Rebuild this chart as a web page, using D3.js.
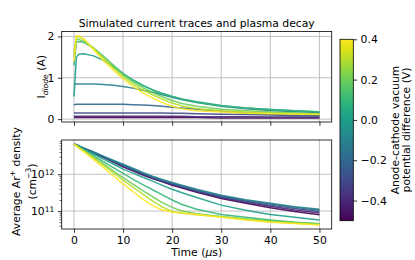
<!DOCTYPE html>
<html>
<head>
<meta charset="utf-8">
<script src="https://cdn.jsdelivr.net/npm/d3@7"></script>
<style>
body { margin: 0; background: #fff; }
svg { font-family: "DejaVu Sans", sans-serif; }
</style>
</head>
<body>
<svg id="chart" width="415" height="260"></svg>
<script>
// time samples (µs) shared by both panels
const times = [0, 0.5, 1, 2, 4, 6, 8, 10, 12, 14, 16, 18, 20, 22, 25, 30, 35, 40, 45, 50];

// anode-cathode vacuum potential difference (V), one trace each
const voltages = [-0.5, -0.4, -0.3, -0.2, -0.1, 0.0, 0.1, 0.2, 0.3, 0.4];

// diode current (A), rows follow voltages
const diodeCurrent = [
    [0.04, 0.04, 0.04, 0.04, 0.04, 0.04, 0.04, 0.04, 0.04, 0.04, 0.04, 0.04, 0.04, 0.04, 0.04, 0.03, 0.03, 0.03, 0.03, 0.03],
    [0.07, 0.07, 0.07, 0.07, 0.07, 0.07, 0.07, 0.07, 0.07, 0.07, 0.07, 0.07, 0.07, 0.07, 0.06, 0.06, 0.06, 0.05, 0.05, 0.05],
    [0.15, 0.15, 0.15, 0.15, 0.15, 0.15, 0.15, 0.15, 0.15, 0.15, 0.15, 0.15, 0.14, 0.14, 0.13, 0.12, 0.11, 0.10, 0.09, 0.08],
    [0.35, 0.36, 0.36, 0.36, 0.36, 0.36, 0.36, 0.36, 0.35, 0.34, 0.33, 0.31, 0.29, 0.27, 0.24, 0.19, 0.15, 0.12, 0.10, 0.09],
    [0.84, 0.85, 0.85, 0.85, 0.85, 0.84, 0.82, 0.79, 0.75, 0.70, 0.65, 0.59, 0.53, 0.47, 0.40, 0.31, 0.25, 0.21, 0.18, 0.16],
    [0.55, 1.50, 1.57, 1.58, 1.53, 1.42, 1.27, 1.10, 0.95, 0.82, 0.71, 0.62, 0.55, 0.49, 0.42, 0.33, 0.27, 0.23, 0.20, 0.17],
    [1.30, 1.87, 1.88, 1.86, 1.72, 1.52, 1.31, 1.10, 0.94, 0.81, 0.70, 0.62, 0.55, 0.48, 0.41, 0.32, 0.27, 0.23, 0.20, 0.18],
    [1.50, 1.93, 1.93, 1.88, 1.72, 1.51, 1.29, 1.07, 0.90, 0.76, 0.64, 0.54, 0.45, 0.38, 0.31, 0.24, 0.20, 0.17, 0.15, 0.13],
    [1.60, 2.00, 1.99, 1.93, 1.71, 1.47, 1.24, 1.02, 0.85, 0.71, 0.59, 0.48, 0.39, 0.32, 0.25, 0.20, 0.17, 0.15, 0.13, 0.12],
    [1.40, 2.02, 2.01, 1.94, 1.68, 1.42, 1.19, 0.97, 0.79, 0.64, 0.51, 0.40, 0.31, 0.25, 0.20, 0.17, 0.14, 0.13, 0.12, 0.11]
];

// average Ar+ density (cm^-3), rows follow voltages
const arDensity = [
    [6.6e12, 6.2e12, 5.75e12, 5.0e12, 3.8e12, 2.9e12, 2.14e12, 1.58e12, 1.23e12, 9.5e11, 7.6e11, 6.2e11, 5.0e11, 4.2e11, 3.24e11, 2.19e11, 1.62e11, 1.23e11, 9.8e10, 7.9e10],
    [6.6e12, 6.2e12, 5.75e12, 5.0e12, 3.8e12, 2.9e12, 2.19e12, 1.62e12, 1.26e12, 9.8e11, 7.8e11, 6.3e11, 5.25e11, 4.4e11, 3.4e11, 2.34e11, 1.74e11, 1.35e11, 1.07e11, 8.9e10],
    [6.6e12, 6.2e12, 5.75e12, 5.0e12, 3.9e12, 2.95e12, 2.24e12, 1.70e12, 1.32e12, 1.02e12, 8.1e11, 6.6e11, 5.5e11, 4.6e11, 3.55e11, 2.45e11, 1.86e11, 1.45e11, 1.17e11, 9.8e10],
    [6.6e12, 6.2e12, 5.75e12, 5.1e12, 4.0e12, 3.0e12, 2.29e12, 1.78e12, 1.38e12, 1.07e12, 8.5e11, 6.9e11, 5.75e11, 4.8e11, 3.7e11, 2.57e11, 1.95e11, 1.55e11, 1.26e11, 1.05e11],
    [6.6e12, 6.2e12, 5.9e12, 5.1e12, 4.0e12, 3.1e12, 2.4e12, 1.86e12, 1.45e12, 1.12e12, 8.9e11, 7.2e11, 6.0e11, 5.0e11, 3.9e11, 2.7e11, 2.04e11, 1.62e11, 1.32e11, 1.12e11],
    [6.6e12, 6.2e12, 5.6e12, 4.8e12, 3.55e12, 2.57e12, 1.9e12, 1.38e12, 1.07e12, 8.3e11, 6.5e11, 5.0e11, 3.9e11, 3.16e11, 2.34e11, 1.45e11, 1.05e11, 8.1e10, 6.8e10, 5.75e10],
    [6.6e12, 6.0e12, 5.5e12, 4.6e12, 3.16e12, 2.19e12, 1.51e12, 1.05e12, 7.4e11, 5.25e11, 3.8e11, 2.75e11, 2.0e11, 1.51e11, 1.12e11, 8.1e10, 6.8e10, 5.75e10, 5.0e10, 4.5e10],
    [6.6e12, 5.9e12, 5.4e12, 4.4e12, 2.9e12, 1.9e12, 1.23e12, 8.1e11, 5.4e11, 3.6e11, 2.45e11, 1.7e11, 1.26e11, 1.0e11, 8.5e10, 7.1e10, 6.2e10, 5.5e10, 4.9e10, 4.5e10],
    [6.6e12, 5.9e12, 5.25e12, 4.3e12, 2.75e12, 1.74e12, 1.1e12, 6.9e11, 4.5e11, 2.9e11, 1.9e11, 1.29e11, 9.8e10, 8.7e10, 7.9e10, 6.9e10, 5.9e10, 5.1e10, 4.7e10, 4.3e10],
    [6.6e12, 5.9e12, 5.1e12, 4.1e12, 2.5e12, 1.51e12, 9.1e11, 5.5e11, 3.4e11, 2.1e11, 1.41e11, 1.07e11, 9.5e10, 8.9e10, 8.1e10, 6.8e10, 5.75e10, 5.0e10, 4.6e10, 4.2e10]
];

const xTicks = [0, 10, 20, 30, 40, 50];
const currentTicks = [0, 1, 2];
const densityTicks = [1e11, 1e12];
const colorbarTicks = [-0.4, -0.2, 0.0, 0.2, 0.4];
const colorRange = [-0.5, 0.4];

// layout
const left = 61.7, right = 331.7;
const top1 = 31.5, bot1 = 122;
const top2 = 140, bot2 = 229;
const cbX = 340, cbW = 13.3, cbTop = 39.3, cbBot = 220.7;
const gridColor = '#b0b0b0';
const fs = '10.8px', fsSmall = '7.6px';
const tick = 3.8;

const svg = d3.select('#chart');
const color = d3.scaleSequential(d3.interpolateViridis).domain(colorRange);

// matplotlib style 5% margins
function pad([lo, hi], f = 0.05) {
    const d = (hi - lo) * f;
    return [lo - d, hi + d];
}

const x = d3.scaleLinear().domain(pad(d3.extent(times))).range([left, right]);
const yI = d3.scaleLinear().domain(pad(d3.extent(diodeCurrent.flat()))).range([bot1, top1]);
const logExt = pad(d3.extent(arDensity.flat()).map(Math.log10));
const yN = d3.scaleLog().domain(logExt.map(v => Math.pow(10, v))).range([bot2, top2]);

function styleAxis(g) {
    g.select('.domain').remove();
    g.selectAll('.tick line').attr('stroke', '#000').attr('stroke-width', 0.8);
    g.selectAll('.tick text').attr('fill', '#000').style('font-size', fs)
        .style('font-family', '"DejaVu Sans", sans-serif');
}

function grid(yScale, yVals, y0, y1) {
    const g = svg.append('g');
    g.selectAll('.gx').data(xTicks).join('line')
        .attr('x1', d => x(d)).attr('x2', d => x(d))
        .attr('y1', y0).attr('y2', y1)
        .attr('stroke', gridColor).attr('stroke-width', 0.8);
    g.selectAll('.gy').data(yVals).join('line')
        .attr('x1', left).attr('x2', right)
        .attr('y1', d => yScale(d)).attr('y2', d => yScale(d))
        .attr('stroke', gridColor).attr('stroke-width', 0.8);
}

function traces(yScale, rows) {
    const line = d3.line().x((d, i) => x(times[i])).y(d => yScale(d));
    svg.append('g').selectAll('path').data(rows).join('path')
        .attr('d', line)
        .attr('fill', 'none')
        .attr('stroke', (d, i) => color(voltages[i]))
        .attr('stroke-width', 1.5)
        .attr('stroke-opacity', 0.9)
        .attr('stroke-linejoin', 'round');
}

function frame(y0, y1) {
    svg.append('rect').attr('x', left).attr('y', y0)
        .attr('width', right - left).attr('height', y1 - y0)
        .attr('fill', 'none').attr('stroke', '#000').attr('stroke-width', 0.8);
}

// ---- top panel: current traces
grid(yI, currentTicks, top1, bot1);
traces(yI, diodeCurrent);
frame(top1, bot1);

svg.append('g').attr('transform', `translate(0,${bot1})`)
    .call(d3.axisBottom(x).tickValues(xTicks).tickSize(tick).tickFormat(''))
    .call(styleAxis);
svg.append('g').attr('transform', `translate(${left},0)`)
    .call(d3.axisLeft(yI).tickValues(currentTicks).tickSize(tick).tickPadding(3.5).tickFormat(d3.format('d')))
    .call(styleAxis);

// ---- bottom panel: plasma decay
grid(yN, densityTicks, top2, bot2);
traces(yN, arDensity);
frame(top2, bot2);

svg.append('g').attr('transform', `translate(0,${bot2})`)
    .call(d3.axisBottom(x).tickValues(xTicks).tickSize(tick).tickPadding(3.5))
    .call(styleAxis);

const minor = yN.ticks().filter(d => !densityTicks.includes(d));
svg.append('g').attr('transform', `translate(${left},0)`)
    .call(d3.axisLeft(yN).tickValues(minor).tickSize(2.1).tickFormat(''))
    .call(styleAxis)
    .call(g => g.selectAll('.tick line').attr('stroke-width', 0.6));

svg.append('g').attr('transform', `translate(${left},0)`)
    .call(d3.axisLeft(yN).tickValues(densityTicks).tickSize(tick).tickPadding(3.5))
    .call(styleAxis)
    .call(g => g.selectAll('.tick text').each(function(d) {
        const t = d3.select(this).text('');
        t.append('tspan').text('10');
        t.append('tspan').attr('dy', '-0.45em').style('font-size', fsSmall).text(Math.round(Math.log10(d)));
    }));

// ---- colorbar
const grad = svg.append('defs').append('linearGradient')
    .attr('id', 'viridis').attr('x1', 0).attr('y1', 1).attr('x2', 0).attr('y2', 0);
grad.selectAll('stop').data(d3.range(0, 1.0001, 0.05)).join('stop')
    .attr('offset', d => d)
    .attr('stop-color', d => d3.interpolateViridis(d));

svg.append('rect').attr('x', cbX).attr('y', cbTop)
    .attr('width', cbW).attr('height', cbBot - cbTop)
    .attr('fill', 'url(#viridis)')
    .attr('stroke', '#000').attr('stroke-width', 0.8);

const cScale = d3.scaleLinear().domain(colorRange).range([cbBot, cbTop]);
const fmtV = d => (d < -1e-9 ? '\u2212' : '') + Math.abs(d).toFixed(1);
svg.append('g').attr('transform', `translate(${cbX + cbW},0)`)
    .call(d3.axisRight(cScale).tickValues(colorbarTicks).tickSize(tick).tickPadding(3.5).tickFormat(fmtV))
    .call(styleAxis);

// ---- texts
svg.append('text')
    .attr('x', (left + right) / 2).attr('y', 27)
    .attr('text-anchor', 'middle').style('font-size', fs)
    .text('Simulated current traces and plasma decay');

const tl = svg.append('text')
    .attr('x', (left + right) / 2).attr('y', 256)
    .attr('text-anchor', 'middle').style('font-size', fs);
tl.append('tspan').text('Time (');
tl.append('tspan').style('font-style', 'italic').text('\u03bc');
tl.append('tspan').text('s)');

const yl1 = svg.append('text')
    .attr('transform', `translate(45,${(top1 + bot1) / 2}) rotate(-90)`)
    .attr('text-anchor', 'middle').style('font-size', fs);
yl1.append('tspan').text('I');
yl1.append('tspan').attr('dy', '2.6').style('font-size', fsSmall).style('font-style', 'italic').text('diode');
yl1.append('tspan').attr('dy', '-2.6').text(' (A)');

const yl2a = svg.append('text')
    .attr('transform', `translate(19.5,${(top2 + bot2) / 2 - 3}) rotate(-90)`)
    .attr('text-anchor', 'middle').style('font-size', fs);
yl2a.append('tspan').text('Average Ar');
yl2a.append('tspan').attr('dy', '-4.2').style('font-size', fsSmall).text('+');
yl2a.append('tspan').attr('dy', '4.2').text(' density');

const yl2b = svg.append('text')
    .attr('transform', `translate(35.5,${(top2 + bot2) / 2 - 3}) rotate(-90)`)
    .attr('text-anchor', 'middle').style('font-size', fs);
yl2b.append('tspan').text('(cm');
yl2b.append('tspan').attr('dy', '-4.2').style('font-size', fsSmall).text('\u22123');
yl2b.append('tspan').attr('dy', '4.2').text(')');

const cbMid = (cbTop + cbBot) / 2;
svg.append('text')
    .attr('transform', `translate(398.5,${cbMid}) rotate(-90)`)
    .attr('text-anchor', 'middle').style('font-size', fs)
    .text('Anode-cathode vacuum');
svg.append('text')
    .attr('transform', `translate(410,${cbMid}) rotate(-90)`)
    .attr('text-anchor', 'middle').style('font-size', fs)
    .text('potential difference (V)');
</script>
</body>
</html>
